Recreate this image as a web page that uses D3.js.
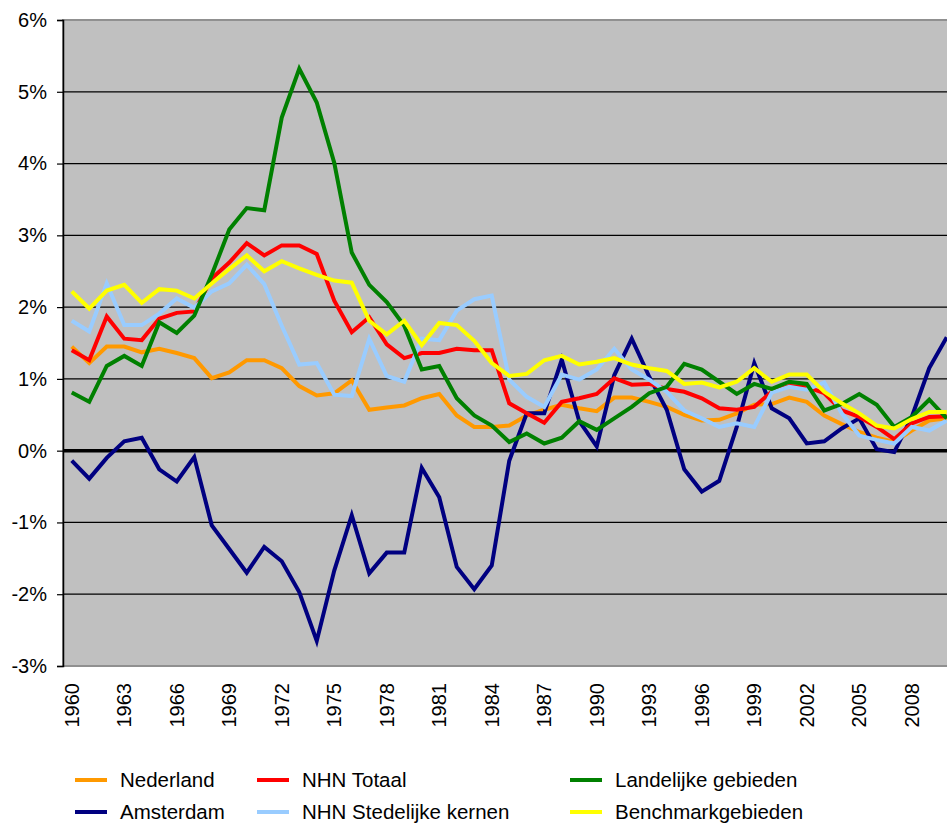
<!DOCTYPE html>
<html lang="nl">
<head>
    <meta charset="UTF-8">
    <title>Bevolkingsgroei</title>
    <script src="https://d3js.org/d3.v7.min.js"></script>
    <style>
        body { margin: 0; background: #fff; }
        svg { display: block; font-family: "Liberation Sans", Arial, sans-serif; }
    </style>
</head>
<body>
    <svg id="chart" width="947" height="824"></svg>
    <script>
        // jaren 1960 - 2010
        var years = d3.range(1960, 2011);
        var yTicks = d3.range(-3, 7);
        var xTickYears = d3.range(1960, 2011, 3);

        var nederland = [1.45,1.22,1.45,1.45,1.37,1.42,1.36,1.29,1.01,1.09,
                         1.26,1.26,1.15,0.90,0.77,0.80,0.98,0.57,0.60,0.63,
                         0.73,0.79,0.49,0.33,0.33,0.35,0.49,0.57,0.64,0.59,
                         0.55,0.74,0.74,0.68,0.61,0.50,0.42,0.43,0.52,0.64,
                         0.65,0.74,0.68,0.49,0.37,0.26,0.18,0.12,0.28,0.42,0.45];
        var amsterdam = [-0.14,-0.39,-0.10,0.13,0.18,-0.26,-0.43,-0.09,-1.04,-1.37,
                         -1.70,-1.34,-1.54,-1.97,-2.65,-1.67,-0.90,-1.71,-1.42,-1.42,
                         -0.24,-0.65,-1.62,-1.93,-1.60,-0.14,0.52,0.52,1.27,0.41,
                         0.06,1.05,1.56,1.03,0.57,-0.26,-0.57,-0.42,0.33,1.22,
                         0.59,0.45,0.10,0.13,0.31,0.45,0.02,-0.02,0.47,1.15,1.58];
        var nhnTotaal = [1.40,1.26,1.87,1.56,1.54,1.84,1.92,1.94,2.40,2.62,
                         2.89,2.72,2.86,2.86,2.74,2.09,1.65,1.86,1.48,1.29,
                         1.36,1.36,1.42,1.40,1.40,0.66,0.52,0.39,0.68,0.73,
                         0.79,1.01,0.92,0.93,0.86,0.82,0.73,0.59,0.57,0.61,
                         0.82,0.90,0.89,0.80,0.56,0.47,0.33,0.16,0.38,0.47,0.48];
        var stedelijk = [1.81,1.66,2.33,1.75,1.75,1.91,2.12,1.99,2.22,2.33,
                         2.59,2.32,1.74,1.20,1.22,0.78,0.76,1.56,1.04,0.96,
                         1.56,1.54,1.95,2.11,2.16,0.99,0.75,0.61,1.06,0.99,
                         1.13,1.42,1.13,0.99,0.82,0.56,0.45,0.33,0.38,0.33,
                         0.81,0.89,0.85,0.95,0.52,0.21,0.15,0.10,0.33,0.28,0.42];
        var landelijk = [0.81,0.68,1.18,1.32,1.18,1.79,1.64,1.88,2.45,3.08,
                         3.38,3.35,4.64,5.32,4.85,4.01,2.76,2.31,2.07,1.74,
                         1.13,1.18,0.73,0.49,0.35,0.12,0.24,0.10,0.18,0.41,
                         0.29,0.45,0.61,0.80,0.89,1.21,1.13,0.96,0.79,0.93,
                         0.86,0.96,0.93,0.56,0.65,0.79,0.64,0.33,0.47,0.71,0.45];
        var benchmark = [2.22,1.98,2.23,2.31,2.06,2.25,2.23,2.12,2.33,2.53,
                         2.72,2.50,2.64,2.54,2.45,2.37,2.34,1.81,1.62,1.81,
                         1.47,1.78,1.75,1.53,1.22,1.04,1.07,1.26,1.32,1.20,
                         1.24,1.29,1.20,1.15,1.11,0.93,0.95,0.88,0.96,1.15,
                         0.96,1.06,1.06,0.82,0.66,0.52,0.35,0.31,0.44,0.54,0.54];

        // volgorde van tekenen (geel bovenop)
        var series = [
            { name: "Nederland", values: nederland, color: "#FF9900" },
            { name: "Amsterdam", values: amsterdam, color: "#000080" },
            { name: "NHN Totaal", values: nhnTotaal, color: "#FF0000" },
            { name: "NHN Stedelijke kernen", values: stedelijk, color: "#99CCFF" },
            { name: "Landelijke gebieden", values: landelijk, color: "#008000" },
            { name: "Benchmarkgebieden", values: benchmark, color: "#FFFF00" }
        ];

        var svg = d3.select("#chart");
        var plotLeft = 63, plotTop = 20, plotBottom = 666, plotRight = 955.5;

        var x = d3.scalePoint().domain(years).range([plotLeft, plotRight]).padding(0.5);
        var y = d3.scaleLinear().domain([-3, 6]).range([plotBottom, plotTop]);

        // plot achtergrond
        svg.append("rect")
            .attr("x", plotLeft).attr("y", plotTop)
            .attr("width", plotRight - plotLeft).attr("height", plotBottom - plotTop)
            .attr("fill", "#C0C0C0")
            .attr("stroke", "#909090")
            .attr("stroke-width", 2);

        // rasterlijnen
        svg.append("g").selectAll("line")
            .data(yTicks.filter(d => d > -3 && d < 6))
            .join("line")
            .attr("x1", plotLeft).attr("x2", plotRight)
            .attr("y1", d => y(d)).attr("y2", d => y(d))
            .attr("stroke", "#000")
            .attr("stroke-width", d => d === 0 ? 3.5 : 1.2);

        // y-as
        var yAxis = svg.append("g")
            .attr("transform", "translate(" + plotLeft + ",0)")
            .call(d3.axisLeft(y).tickValues(yTicks).tickSize(6).tickPadding(10)
                .tickFormat(d => d + "%"));
        yAxis.select(".domain").attr("stroke", "#000").attr("stroke-width", 1.5);
        yAxis.selectAll(".tick line").attr("stroke", "#000").attr("stroke-width", 1.2);
        yAxis.selectAll("text").attr("font-size", 20).attr("fill", "#000")
            .attr("font-family", "Liberation Sans, Arial, sans-serif");

        // x-as labels
        svg.append("g").selectAll("text")
            .data(xTickYears)
            .join("text")
            .attr("transform", d => "translate(" + x(d) + ",683) rotate(-90)")
            .attr("dy", "0.35em")
            .attr("text-anchor", "end")
            .attr("font-size", 20)
            .text(d => d);

        // lijnen
        var line = d3.line()
            .x((d, i) => x(years[i]))
            .y(d => y(d));

        svg.append("g").selectAll("path")
            .data(series)
            .join("path")
            .attr("d", d => line(d.values))
            .attr("fill", "none")
            .attr("stroke", d => d.color)
            .attr("stroke-width", 4)
            .attr("stroke-linejoin", "miter");

        // legenda
        var legendOrder = ["Nederland", "NHN Totaal", "Landelijke gebieden",
                           "Amsterdam", "NHN Stedelijke kernen", "Benchmarkgebieden"];
        var colX = [75, 257, 570];
        var rowY = [780, 812];

        var legend = svg.append("g").selectAll("g")
            .data(legendOrder.map(n => series.find(s => s.name === n)))
            .join("g")
            .attr("transform", (d, i) => "translate(" + colX[i % 3] + "," + rowY[Math.floor(i / 3)] + ")");

        legend.append("line")
            .attr("x1", 0).attr("x2", 32)
            .attr("stroke", d => d.color)
            .attr("stroke-width", 4);

        legend.append("text")
            .attr("x", 45)
            .attr("dy", "0.35em")
            .attr("font-size", 20.5)
            .text(d => d.name);
    </script>
</body>
</html>
